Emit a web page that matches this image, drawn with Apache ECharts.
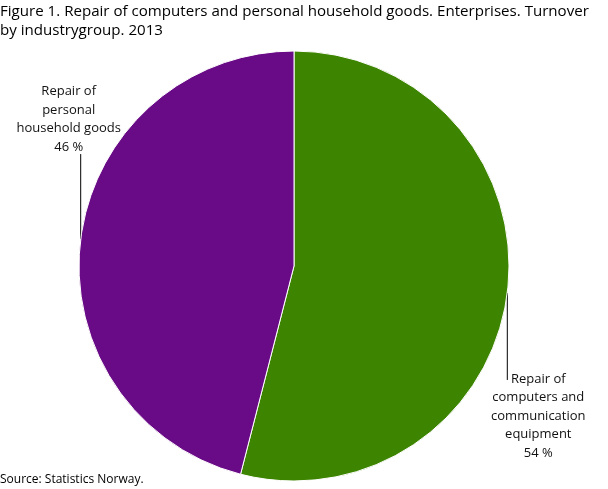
<!DOCTYPE html>
<html><head><meta charset="utf-8">
<script src="https://cdn.jsdelivr.net/npm/echarts@6/dist/echarts.min.js"></script>
<style>html,body{margin:0;padding:0;background:#fff}#c{width:608px;height:489px}</style>
</head><body><div id="c"></div>
<script>
const titleText = 'Figure 1. Repair of computers and personal household goods. Enterprises. Turnover\nby industrygroup. 2013';
const sourceText = 'Source: Statistics Norway.';
const categories = ['Repair of computers and communication equipment', 'Repair of personal household goods'];
const categoryLabelLines = [['Repair of', 'computers and', 'communication', 'equipment'], ['Repair of', 'personal', 'household goods']];
const values = [54, 46];
const colors = ['#3d8500', '#690b86'];

const chart = echarts.init(document.getElementById('c'), null, {renderer: 'canvas'});
const FONT = '"Open Sans", sans-serif';
// label placement relative to the slice's edge point
const labelPlacement = [
  {dx: 31, dy: 77, line: 87, va: 'top'},
  {dx: -12, dy: -83, line: -85, va: 'bottom'}
];
chart.setOption({
  animation: false,
  backgroundColor: '#fff',
  title: {
    text: titleText,
    left: 0, top: 2, padding: 0,
    textStyle: {fontFamily: FONT, fontSize: 15.1, fontWeight: 500, color: '#000', lineHeight: 19}
  },
  graphic: [{
    type: 'text', left: 0, bottom: 3,
    style: {text: sourceText, font: '12px ' + FONT, fill: '#000'}
  }],
  series: [{
    type: 'pie',
    center: [294, 266],
    radius: 215,
    startAngle: 90,
    clockwise: true,
    silent: true,
    data: categories.map((c, i) => ({name: c, value: values[i], itemStyle: {color: colors[i]}})),
    itemStyle: {borderColor: '#fff', borderWidth: 1},
    label: {
      show: true,
      position: 'outside',
      overflow: 'none',
      edgeDistance: 0,
      formatter: p => categoryLabelLines[p.dataIndex].join('\n') + '\n' + values[p.dataIndex] + ' %',
      fontFamily: FONT, fontSize: 13, lineHeight: 18.5, color: '#111', align: 'center'
    },
    labelLine: {show: true, length: 10, length2: 10, lineStyle: {color: '#000', width: 1}},
    labelLayout: function (params) {
      const pl = labelPlacement[params.dataIndex];
      const pts = params.labelLinePoints;
      const p = pts && pts[0];
      if (!p) return {};
      const px = p[0], py = p[1];
      return {
        x: px + pl.dx, y: py + pl.dy, align: 'center', verticalAlign: pl.va,
        labelLinePoints: [[px, py], [px, py + pl.line], [px, py + pl.line]]
      };
    }
  }]
});
</script></body></html>
